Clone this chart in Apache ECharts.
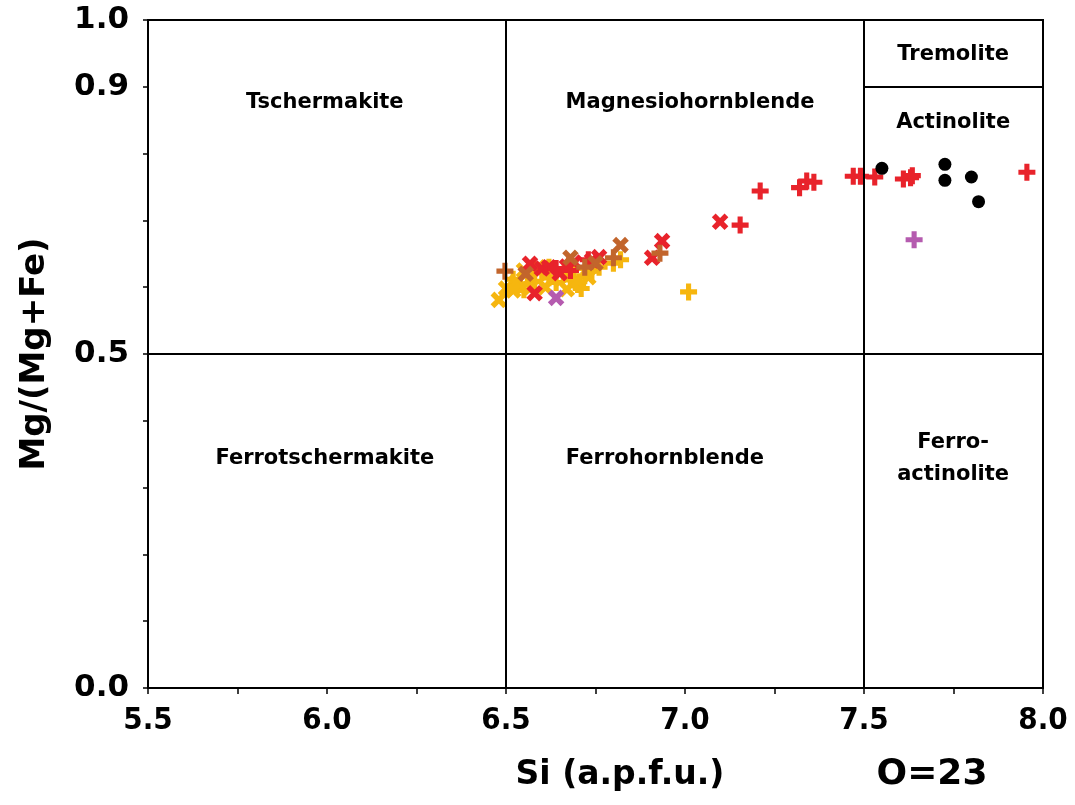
<!DOCTYPE html>
<html><head><meta charset="utf-8">
<script src="https://cdn.jsdelivr.net/npm/echarts@6/dist/echarts.min.js"></script>
<style>html,body{margin:0;padding:0;background:#fff}#chart{width:1075px;height:805px}</style>
</head><body><div id="chart"></div>
<script>
// ---- data ----
const xLabelValues = [5.5, 6.0, 6.5, 7.0, 7.5, 8.0];
const yLabelValues = [0.0, 0.5, 0.9, 1.0];

const yellowPlus = [[6.52,0.612],[6.54,0.604],[6.56,0.618],[6.58,0.609],[6.60,0.622],[6.62,0.614],[6.64,0.607],[6.66,0.619],[6.68,0.611],[6.70,0.604],[6.72,0.617],[6.74,0.624],[6.76,0.630],[6.80,0.636],[6.82,0.641],[7.01,0.593],[6.62,0.630],[6.69,0.628],[6.55,0.596],[6.71,0.598]];
const yellowCross = [[6.48,0.581],[6.50,0.598],[6.53,0.608],[6.57,0.600],[6.61,0.600],[6.63,0.612],[6.67,0.597],[6.70,0.610],[6.73,0.615],[6.55,0.625],[6.59,0.630],[6.65,0.624],[6.52,0.595]];
const redCross = [[6.567,0.635],[6.58,0.591],[6.60,0.628],[6.62,0.630],[6.65,0.621],[6.67,0.631],[6.69,0.637],[6.74,0.640],[6.76,0.645],[6.908,0.644],[6.936,0.669],[7.098,0.698]];
const redPlus = [[6.68,0.625],[6.64,0.628],[6.73,0.641],[7.154,0.693],[7.21,0.744],[7.32,0.749],[7.34,0.759],[7.36,0.757],[7.47,0.766],[7.49,0.766],[7.53,0.765],[7.61,0.762],[7.63,0.764],[7.635,0.767],[7.955,0.772]];
const brownCross = [[6.555,0.620],[6.68,0.644],[6.82,0.663],[6.75,0.636]];
const brownPlus = [[6.497,0.624],[6.80,0.644],[6.93,0.651],[6.72,0.630]];
const purpleCross = [[6.64,0.584]];
const purplePlus = [[7.64,0.671]];
const blackDots = [[7.55,0.778],[7.726,0.784],[7.726,0.760],[7.80,0.765],[7.82,0.728]];

const regionLabels = [
  ['Tschermakite', 5.994, 0.876],
  ['Magnesiohornblende', 7.014, 0.876],
  ['Tremolite', 7.749, 0.949],
  ['Actinolite', 7.749, 0.847],
  ['Ferrotschermakite', 5.994, 0.344],
  ['Ferrohornblende', 6.944, 0.344],
  ['Ferro-\nactinolite', 7.749, 0.343]
];
const boundaryX = [6.5, 7.5];
const boundaryY = 0.5;
const tremoliteY = 0.9;

// ---- chart ----
const PLUS = 'path://M3.5,0H6.5V3.5H10V6.5H6.5V10H3.5V6.5H0V3.5H3.5Z';
const C = {red:'#E8232B', brown:'#C2652C', yellow:'#F6B60F', purple:'#B55BAF', black:'#000'};
function sc(data, color, cross){
  return {type:'scatter', data, symbol: PLUS, symbolRotate: cross?45:0,
    symbolSize: cross?18:17, itemStyle:{color, opacity:1}, silent:true, z:3};
}
const chart = echarts.init(document.getElementById('chart'), null, {renderer:'canvas'});
const lineStyle = {color:'#000', width:2, type:'solid', opacity:1};
chart.setOption({
  animation:false,
  backgroundColor:'#fff',
  grid:{left:148, right:32, top:20, bottom:117, show:true, borderColor:'#000', borderWidth:2},
  xAxis:{type:'value', min:5.5, max:8.0, interval:0.25,
    axisLine:{onZero:false, lineStyle:{color:'#000', width:2}},
    axisTick:{show:true, inside:false, length:6, lineStyle:{color:'#000', width:1.5}},
    splitLine:{show:false},
    axisLabel:{margin:17, color:'#000', fontFamily:'"DejaVu Sans Condensed","Liberation Sans Narrow",sans-serif', fontWeight:'bold', fontSize:31,
      formatter:v=>xLabelValues.some(t=>Math.abs(t-v)<1e-6)?v.toFixed(1):''}
  },
  yAxis:{type:'value', min:0, max:1.0, interval:0.1,
    name:'Mg/(Mg+Fe)', nameLocation:'middle', nameGap:96, nameRotate:90,
    nameTextStyle:{color:'#000', fontFamily:'"DejaVu Sans",sans-serif', fontWeight:'bold', fontSize:34},
    axisLine:{onZero:false, lineStyle:{color:'#000', width:2}},
    axisTick:{show:true, inside:false, length:5, lineStyle:{color:'#000', width:1.5}},
    splitLine:{show:false},
    axisLabel:{margin:19, color:'#000', fontFamily:'"DejaVu Sans",sans-serif', fontWeight:'bold', fontSize:31,
      formatter:v=>yLabelValues.some(t=>Math.abs(t-v)<1e-6)?v.toFixed(1):''}
  },
  graphic:[
    {type:'text', x:620, y:775, style:{text:'Si (a.p.f.u.)', fill:'#000', font:'bold 33px "DejaVu Sans", sans-serif', textAlign:'center', textVerticalAlign:'middle'}},
    {type:'text', x:932, y:775, style:{text:'O=23', fill:'#000', font:'bold 36px "DejaVu Sans", sans-serif', textAlign:'center', textVerticalAlign:'middle'}}
  ],
  series:[
    {type:'scatter', symbolSize:0, silent:true, z:2, itemStyle:{opacity:1},
      data: regionLabels.map(r=>({name:r[0], value:[r[1], r[2]]})),
      label:{show:true, position:'inside', formatter:p=>p.name, color:'#000', opacity:1,
        fontFamily:'"DejaVu Sans",sans-serif', fontWeight:'bold', fontSize:21, lineHeight:32, align:'center', verticalAlign:'middle'},
      markLine:{silent:true, symbol:'none', animation:false, label:{show:false}, lineStyle,
        data:[
          ...boundaryX.map(x=>({xAxis:x})),
          {yAxis:boundaryY},
          [{coord:[boundaryX[1], tremoliteY]},{coord:[8.0, tremoliteY]}]
        ]}
    },
    sc(yellowPlus, C.yellow, false),
    sc(yellowCross, C.yellow, true),
    sc(redCross, C.red, true),
    sc(redPlus, C.red, false),
    sc(brownCross, C.brown, true),
    sc(brownPlus, C.brown, false),
    sc(purpleCross, C.purple, true),
    sc(purplePlus, C.purple, false),
    {type:'scatter', data:blackDots, symbol:'circle', symbolSize:13, itemStyle:{color:C.black, opacity:1}, silent:true, z:4}
  ]
});
</script></body></html>
